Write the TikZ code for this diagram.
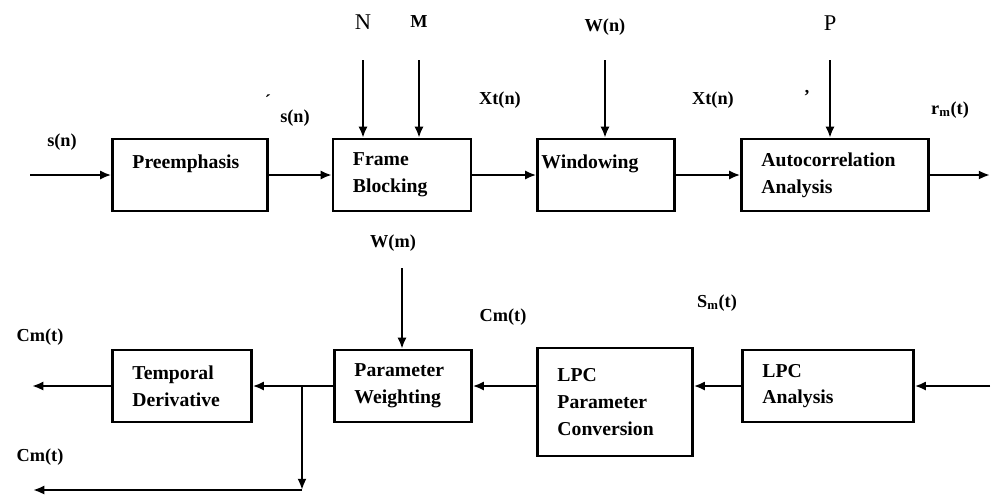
\documentclass[tikz,border=0pt]{standalone}
\usepackage{fontspec}
\setmainfont{Liberation Serif}
\usetikzlibrary{arrows.meta, positioning}
\newcommand{\boxfont}{\bfseries\fontsize{14}{19}\selectfont}
\newcommand{\sigfont}{\bfseries\fontsize{13}{15}\selectfont}

\begin{document}
\begin{tikzpicture}[x=0.025cm, y=-0.025cm,
    block/.style={rectangle, draw, line width=1.6pt, align=left, inner xsep=0.5cm,
                  inner ysep=0pt, minimum height=1.8cm, text width=#1, font=\boxfont},
    signal/.style={font=\sigfont, inner sep=1pt},
    param/.style={font=\fontsize{16}{18}\selectfont, inner sep=1pt},
    flow/.style={-{Latex[length=8pt, width=6.5pt]}, line width=1.6pt},
]
    \useasboundingbox (0,0) rectangle (992,496);

    % ── Analysis chain, top row ──
    \node[block=2.875cm] (preemph) at (190,175) {Preemphasis\\~};
    \node[block=2.45cm] (frameblk) at (402,175) {Frame\\Blocking};
    \node[block=3.225cm, inner xsep=0.1cm] (window) at (606,175) {Windowing\\~};
    \node[block=3.675cm] (autocorr) at (835,175) {Autocorrelation\\Analysis};

    \coordinate (sigin) at (30,175);
    \coordinate (rout) at (990,175);
    \coordinate (ntop) at (363,60);
    \coordinate (mtop) at (419,60);
    \coordinate (wntop) at (605,60);
    \coordinate (ptop) at (830,60);

    \draw[flow] (sigin) -- (preemph);
    \draw[flow] (preemph) -- (frameblk);
    \draw[flow] (frameblk) -- (window);
    \draw[flow] (window) -- (autocorr);
    \draw[flow] (autocorr) -- (rout);
    \draw[flow] (ntop) -- (ntop |- frameblk.north);
    \draw[flow] (mtop) -- (mtop |- frameblk.north);
    \draw[flow] (wntop) -- (wntop |- window.north);
    \draw[flow] (ptop) -- (ptop |- autocorr.north);

    \node[signal] (lsin) at (62,142) {s(n)};
    \node[signal] (lspre) at (295,118) {s(n)};
    \node[signal] (tick1) at (268,101) {´};
    \node[param] (lN) at (363,22) {N};
    \node[signal] (lM) at (419,22) {M};
    \node[signal] (lwn) at (605,27) {W(n)};
    \node[param] (lP) at (830,23) {P};
    \node[signal] (lxt1) at (500,100) {Xt(n)};
    \node[signal] (lxt2) at (713,100) {Xt(n)};
    \node[signal] (tick2) at (807,96) {’};
    \node[signal] (lrm) at (950,110) {r\textsubscript{m}(t)};

    % ── Feature chain, bottom row ──
    \node[block=2.475cm] (tempder) at (182,386) {Temporal\\Derivative};
    \node[block=2.425cm] (paramwt) at (403,386) {Parameter\\Weighting};
    \node[block=2.875cm, minimum height=2.7cm] (lpcconv) at (615,402) {LPC\\Parameter\\Conversion};
    \node[block=3.275cm] (lpcan) at (828,386) {LPC\\Analysis};

    \coordinate (lpcin) at (990,386);
    \coordinate (cmout) at (32,386);
    \coordinate (branch) at (302,386);
    \coordinate (corner) at (302,490);
    \coordinate (cmout2) at (33,490);
    \coordinate (wmtop) at (402,268);

    \draw[flow] (lpcin) -- (lpcan);
    \draw[flow] (lpcan.west) -- (lpcan.west -| lpcconv.east);
    \draw[flow] (lpcconv.west |- paramwt) -- (paramwt.east);
    \draw[flow] (paramwt) -- (tempder);
    \draw[flow] (tempder) -- (cmout);
    \draw[flow] (branch) -- (corner);
    \draw[flow] (corner) -- (cmout2);
    \draw[flow] (wmtop) -- (wmtop |- paramwt.north);

    \node[signal] (lwm) at (393,243) {W(m)};
    \node[signal] (lcm1) at (503,317) {Cm(t)};
    \node[signal] (lsm) at (717,303) {S\textsubscript{m}(t)};
    \node[signal] (lcm2) at (40,337) {Cm(t)};
    \node[signal] (lcm3) at (40,457) {Cm(t)};

\end{tikzpicture}
\end{document}
